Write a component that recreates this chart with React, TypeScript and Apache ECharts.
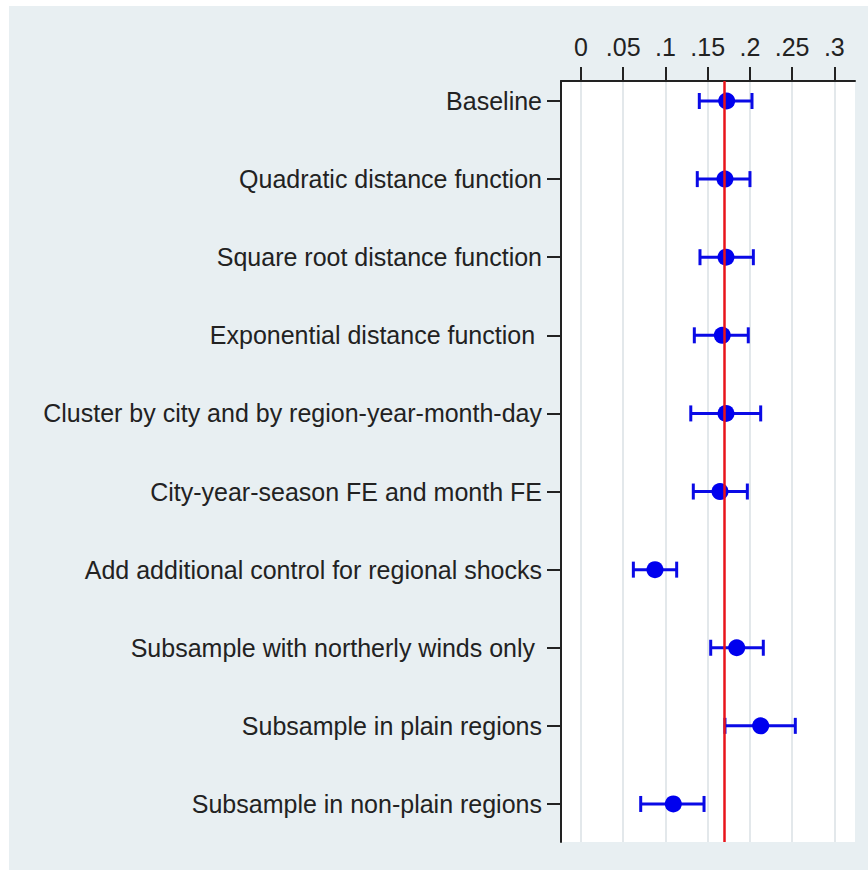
import React, { useEffect, useRef } from "react";
import * as echarts from "echarts";

const categories = [
  "Baseline",
  "Quadratic distance function",
  "Square root distance function",
  "Exponential distance function ",
  "Cluster by city and by region-year-month-day",
  "City-year-season FE and month FE",
  "Add additional control for regional shocks",
  "Subsample with northerly winds only ",
  "Subsample in plain regions",
  "Subsample in non-plain regions",
];
const estimates = [0.1725, 0.1705, 0.1717, 0.1673, 0.1717, 0.1646, 0.0876, 0.1844, 0.2128, 0.1093];
const lower = [0.1401, 0.1377, 0.1409, 0.1342, 0.13, 0.133, 0.062, 0.1536, 0.1705, 0.0707];
const upper = [0.2025, 0.2001, 0.2041, 0.1981, 0.2128, 0.197, 0.1133, 0.2159, 0.2538, 0.1457];
const xTicks = [0, 0.05, 0.1, 0.15, 0.2, 0.25, 0.3];
const xTickLabels = ["0", ".05", ".1", ".15", ".2", ".25", ".3"];
const refLine = 0.17;

export default function App() {
  const ref = useRef<HTMLDivElement>(null);
  useEffect(() => {
    if (!ref.current) return;
    const chart = echarts.init(ref.current, undefined, { renderer: "svg" });
    const yIdx = categories.map((_, i) => i);
    const font = "'Liberation Sans', Arial, sans-serif";
    chart.setOption({
      animation: false,
      graphic: [
        {
          type: "rect",
          shape: { x: 9, y: 6, width: 859, height: 864 },
          style: { fill: "#e8eff2" },
          z: -10,
          silent: true,
        },
      ],
      grid: {
        left: 561,
        top: 81,
        width: 294,
        height: 761,
        show: true,
        backgroundColor: "#ffffff",
        borderWidth: 0,
      },
      xAxis: {
        type: "value",
        position: "top",
        min: -0.0237,
        max: 0.3245,
        axisLine: { show: true, onZero: false, lineStyle: { color: "#222", width: 2 } },
        axisTick: {
          show: true,
          inside: false,
          length: 14,
          customValues: xTicks,
          lineStyle: { color: "#222", width: 2 },
        },
        axisLabel: {
          show: true,
          customValues: xTicks,
          formatter: (v: number) => {
            const i = xTicks.findIndex((t) => Math.abs(t - v) < 1e-6);
            return i >= 0 ? xTickLabels[i] : "";
          },
          margin: 22,
          fontSize: 25,
          color: "#222",
          fontFamily: font,
        },
        splitLine: { show: true, lineStyle: { color: "#e3e8eb", width: 2 } },
      },
      yAxis: {
        type: "value",
        inverse: true,
        min: -0.256,
        max: 9.487,
        axisLine: { show: true, onZero: false, lineStyle: { color: "#222", width: 2 } },
        axisTick: {
          show: true,
          length: 14,
          customValues: yIdx,
          lineStyle: { color: "#222", width: 2 },
        },
        axisLabel: {
          show: true,
          customValues: yIdx,
          formatter: (v: number) => categories[Math.round(v)] ?? "",
          margin: 19,
          fontSize: 25,
          color: "#222",
          fontFamily: font,
        },
        splitLine: { show: false },
      },
      series: [
        {
          type: "custom",
          data: categories.map((_, i) => [lower[i], upper[i], i]),
          encode: { x: [0, 1], y: 2 },
          renderItem: (params: any, api: any) => {
            const lo = api.coord([api.value(0), api.value(2)]);
            const hi = api.coord([api.value(1), api.value(2)]);
            const h = 8;
            const style = { stroke: "#0a0ae6", lineWidth: 3, fill: "none" };
            return {
              type: "group",
              children: [
                { type: "line", shape: { x1: lo[0], y1: lo[1], x2: hi[0], y2: hi[1] }, style },
                { type: "line", shape: { x1: lo[0], y1: lo[1] - h, x2: lo[0], y2: lo[1] + h }, style },
                { type: "line", shape: { x1: hi[0], y1: hi[1] - h, x2: hi[0], y2: hi[1] + h }, style },
              ],
            };
          },
          z: 3,
        },
        {
          type: "scatter",
          data: categories.map((_, i) => [estimates[i], i]),
          symbol: "circle",
          symbolSize: 17,
          itemStyle: { color: "#0000ee", opacity: 1 },
          z: 4,
        },
        {
          type: "line",
          data: [],
          markLine: {
            silent: true,
            symbol: "none",
            label: { show: false },
            lineStyle: { color: "#e8141b", width: 2.5, type: "solid" },
            data: [{ xAxis: refLine }],
          },
          z: 2,
        },
      ],
    });
    return () => chart.dispose();
  }, []);
  return (
    <div
      ref={ref}
      style={{ position: "absolute", left: 0, top: 0, width: 868, height: 870, background: "#ffffff" }}
    />
  );
}
